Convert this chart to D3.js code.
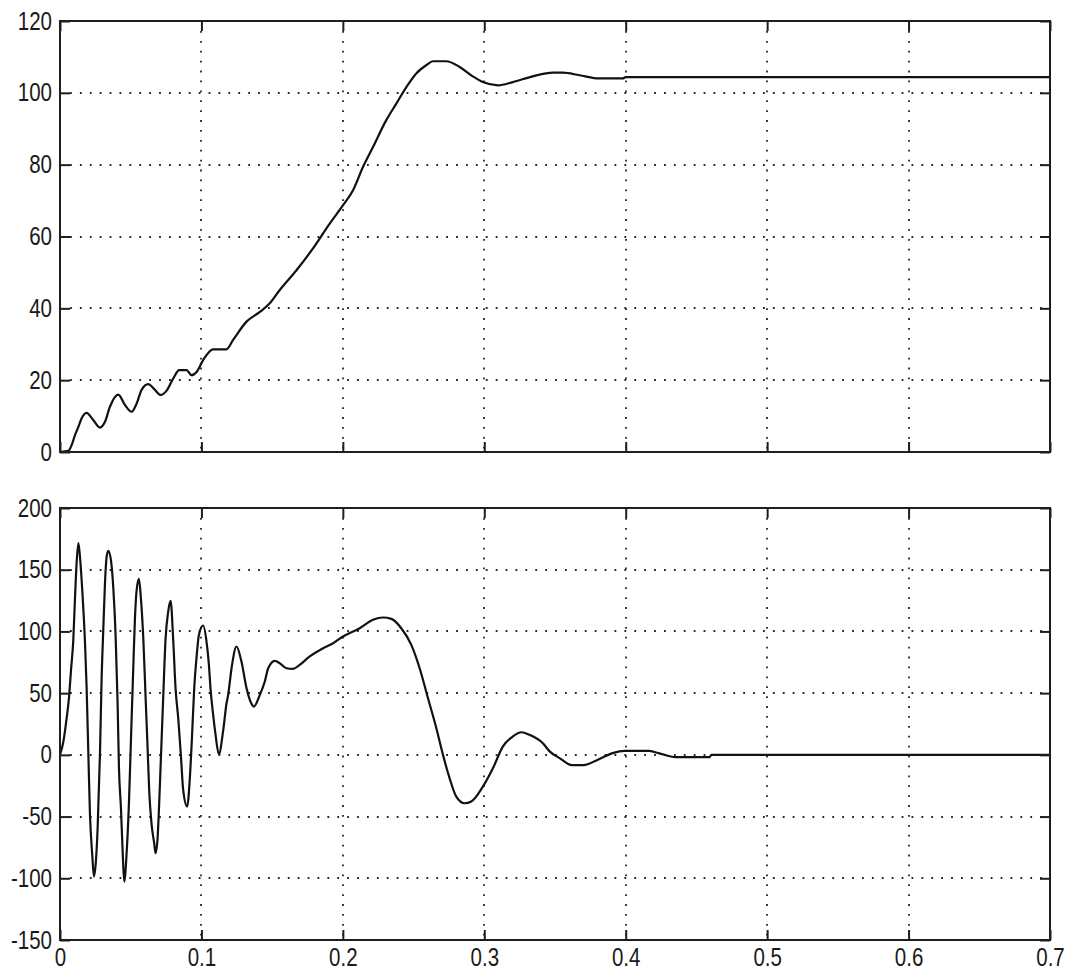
<!DOCTYPE html>
<html>
<head>
<meta charset="utf-8">
<script src="https://cdn.jsdelivr.net/npm/d3@7"></script>
<style>
  html, body { margin: 0; padding: 0; background: #fff; }
  svg { display: block; }
  .tick text { font-family: "Liberation Sans", Arial, sans-serif; font-size: 25px; fill: #1a1a1a; }
</style>
</head>
<body>
<svg id="fig" width="1073" height="969"></svg>
<script>
// Shared time axis
const xTicks = [0, 0.1, 0.2, 0.3, 0.4, 0.5, 0.6, 0.7];

// Upper trace: speed response
const yTicksTop = [0, 20, 40, 60, 80, 100, 120];
const timeTop = [0, 0.0059, 0.0082, 0.0106, 0.0130, 0.0153, 0.0188, 0.0235, 0.0283, 0.0318,
  0.0353, 0.0412, 0.0459, 0.0506, 0.0542, 0.0577, 0.0624, 0.0671, 0.0711, 0.0754,
  0.0801, 0.0843, 0.0895, 0.0930, 0.0966, 0.1012, 0.1083, 0.1177, 0.1224, 0.1319,
  0.1413, 0.1483, 0.1554, 0.1672, 0.1789, 0.1907, 0.1994, 0.2072, 0.2143, 0.2213,
  0.2307, 0.2378, 0.2449, 0.2519, 0.2590, 0.2637, 0.2731, 0.2826, 0.2919, 0.2990,
  0.3096, 0.3202, 0.3343, 0.3485, 0.3555, 0.3673, 0.3814, 0.3979, 0.4000, 0.7000];
const speedTop = [0, 0.3, 1.9, 4.7, 7.0, 9.4, 10.9, 8.9, 6.8, 8.4,
  12.6, 16.0, 13.1, 11.2, 13.5, 17.3, 18.9, 17.3, 15.9, 17.1,
  20.5, 22.8, 22.8, 21.4, 22.3, 25.6, 28.6, 28.6, 31.2, 36.3,
  39.0, 41.4, 45.1, 50.6, 56.7, 63.6, 68.3, 72.9, 79.4, 84.9,
  92.4, 97.0, 101.6, 105.4, 107.7, 108.8, 108.8, 107.2, 104.6, 103.0,
  102.1, 103.0, 104.6, 105.6, 105.6, 104.9, 104.0, 104.0, 104.4, 104.4];

// Lower trace: torque response
const yTicksBottom = [-150, -100, -50, 0, 50, 100, 150, 200];
const timeBottom = [0, 0.0024, 0.0047, 0.0064, 0.0078, 0.0094, 0.0106, 0.0118, 0.0130, 0.0141,
  0.0158, 0.0177, 0.0188, 0.0200, 0.0212, 0.0228, 0.0240, 0.0252, 0.0266, 0.0283,
  0.0294, 0.0306, 0.0318, 0.0330, 0.0341, 0.0360, 0.0377, 0.0393, 0.0407, 0.0417,
  0.0431, 0.0443, 0.0454, 0.0471, 0.0487, 0.0502, 0.0518, 0.0530, 0.0542, 0.0558,
  0.0572, 0.0589, 0.0605, 0.0619, 0.0631, 0.0648, 0.0666, 0.0676, 0.0690, 0.0699,
  0.0713, 0.0730, 0.0746, 0.0765, 0.0782, 0.0801, 0.0817, 0.0836, 0.0855, 0.0871,
  0.0899, 0.0918, 0.0935, 0.0949, 0.0965, 0.0982, 0.1012, 0.1036, 0.1053, 0.1064,
  0.1083, 0.1100, 0.1123, 0.1154, 0.1177, 0.1189, 0.1213, 0.1248, 0.1283, 0.1319,
  0.1347, 0.1371, 0.1413, 0.1448, 0.1472, 0.1519, 0.1554, 0.1601, 0.1648, 0.1695,
  0.1766, 0.1860, 0.1931, 0.2001, 0.2119, 0.2213, 0.2284, 0.2343, 0.2413, 0.2484,
  0.2543, 0.2602, 0.2661, 0.2708, 0.2755, 0.2802, 0.2861, 0.2908, 0.2990, 0.3061,
  0.3131, 0.3202, 0.3261, 0.3320, 0.3414, 0.3462, 0.3535, 0.3619, 0.3703, 0.3800,
  0.3908, 0.3992, 0.4160, 0.4232, 0.4352, 0.4593, 0.4605, 0.7000];
const torqueBottom = [0, 10.8, 29.7, 47, 68.9, 93.2, 126.9, 156.6, 171.5, 160.7,
  132.3, 90.4, 55.4, 2.7, -48.6, -81, -98.6, -89, -59.5, 2.7,
  60.8, 101.3, 139, 160.7, 165.3, 158, 135, 97.2, 43.2, -10.8,
  -43.2, -78.4, -102.7, -79.7, -40.5, 13.5, 70.2, 110.7, 133.7, 142.6,
  126.9, 94.5, 47.3, 6.7, -29.7, -56.7, -71.6, -79.7, -67.6, -45.9,
  -4, 47.3, 93.2, 116.1, 124.8, 91.8, 54, 29.7, -1, -28.4,
  -41.9, -19, 18.9, 54, 78.3, 97.2, 104.8, 91.8, 72.9, 54,
  32.4, 16.2, 0.5, 19.8, 41.4, 48.6, 70.2, 87.8, 75.6, 54,
  43.2, 39.1, 48.6, 59.4, 70.2, 76.2, 74.2, 70.2, 69.7, 72.9,
  79.7, 86.4, 90.4, 95.9, 102.6, 109.4, 111.3, 110.2, 102.6, 89.1,
  70.2, 45.9, 21.6, 0, -19, -33.8, -39.2, -37.8, -25.7, -10.9,
  6.7, 14.9, 18.3, 16.2, 9.4, 2.8, -2.8, -8.3, -8.3, -4.1,
  1.4, 3.3, 3.3, 1.4, -1.9, -1.9, 0, 0];

const svg = d3.select("#fig");
const left = 60, right = 1050;
const ink = "#1e1e1e";
const narrow = 0.82; // horizontal squeeze for tick labels

const x = d3.scaleLinear().domain([0, 0.7]).range([left, right]);

// Squeeze tick labels horizontally; anchor them by hand so the squeeze keeps alignment.
// mode "end": right edge at -pad; mode "middle": centred on the tick.
function squeeze(mode, pad) {
  return sel => sel.selectAll(".tick text").each(function () {
    const w = this.getComputedTextLength();
    if (w <= 0) return;
    const nw = w * narrow;
    d3.select(this)
      .attr("text-anchor", "start")
      .attr("x", mode === "end" ? -pad - nw : -nw / 2)
      .attr("textLength", nw.toFixed(2))
      .attr("lengthAdjust", "spacingAndGlyphs");
  });
}

function drawPanel(top, bottom, yDomain, yTicks, times, values, showXLabels) {
  const y = d3.scaleLinear().domain(yDomain).range([bottom, top]);
  const g = svg.append("g");

  // dotted grid
  const grid = g.append("g")
    .attr("stroke", "#262626")
    .attr("stroke-width", 1.8)
    .attr("stroke-dasharray", "1.8,8.1")
    .attr("fill", "none");
  xTicks.filter(t => t > 0 && t < 0.7).forEach(t => {
    grid.append("line")
      .attr("x1", Math.round(x(t))).attr("x2", Math.round(x(t)))
      .attr("y1", top + 10).attr("y2", bottom);
  });
  yTicks.filter(v => v > yDomain[0] && v < yDomain[1]).forEach(v => {
    grid.append("line")
      .attr("x1", left + 10).attr("x2", right)
      .attr("y1", Math.round(y(v))).attr("y2", Math.round(y(v)));
  });

  // data trace
  const pts = times.map((t, i) => [t, values[i]]);
  g.append("path")
    .datum(pts)
    .attr("fill", "none")
    .attr("stroke", "#111")
    .attr("stroke-width", 2.2)
    .attr("stroke-linejoin", "round")
    .attr("d", d3.line().x(d => x(d[0])).y(d => y(d[1])).curve(d3.curveMonotoneX));

  // axes with inward ticks on all four sides
  const styleAxis = sel => {
    sel.select(".domain").remove();
    sel.selectAll(".tick line").attr("stroke", ink).attr("stroke-width", 2);
  };
  g.append("g").attr("transform", `translate(${left},0)`)
    .call(d3.axisLeft(y).tickValues(yTicks).tickSize(-10).tickPadding(8).tickFormat(d => String(d)))
    .call(styleAxis)
    .call(squeeze("end", 8));
  g.append("g").attr("transform", `translate(${right},0)`)
    .call(d3.axisRight(y).tickValues(yTicks).tickSize(-10).tickFormat(""))
    .call(styleAxis);
  g.append("g").attr("transform", `translate(0,${top})`)
    .call(d3.axisTop(x).tickValues(xTicks).tickSize(-10).tickFormat(""))
    .call(styleAxis);
  g.append("g").attr("transform", `translate(0,${bottom})`)
    .call(d3.axisBottom(x).tickValues(xTicks).tickSize(-10).tickPadding(8)
      .tickFormat(showXLabels ? (d => String(d)) : ""))
    .call(styleAxis)
    .call(squeeze("middle", 0));

  // axes box
  g.append("rect")
    .attr("x", left).attr("y", top)
    .attr("width", right - left).attr("height", bottom - top)
    .attr("fill", "none").attr("stroke", ink).attr("stroke-width", 2);
}

drawPanel(21, 452, [0, 120], yTicksTop, timeTop, speedTop, false);
drawPanel(508, 940, [-150, 200], yTicksBottom, timeBottom, torqueBottom, true);
</script>
</body>
</html>
